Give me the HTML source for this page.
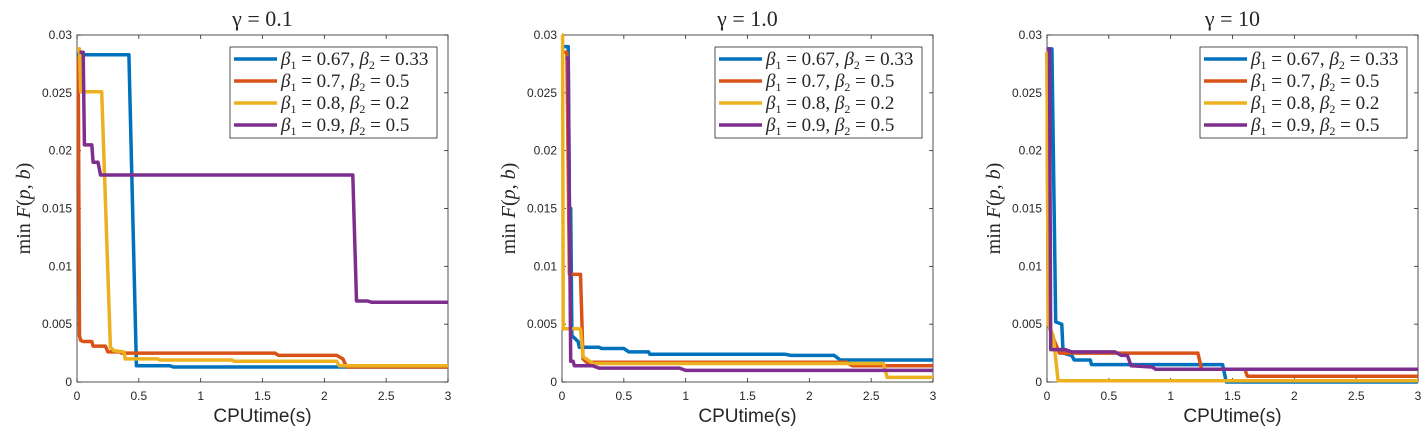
<!DOCTYPE html>
<html><head><meta charset="utf-8"><style>
body{margin:0;background:#fff;width:1425px;height:435px;overflow:hidden}
svg{display:block}
text{font-family:"Liberation Sans",sans-serif;fill:#262626}
.ser{font-family:"Liberation Serif",serif}
</style></head><body>
<svg id="fig" width="1425" height="435"></svg>
<script>
const titles=["γ = 0.1","γ = 1.0","γ = 10"];
const xTicks=[0,0.5,1,1.5,2,2.5,3];
const xTickLabels=["0","0.5","1","1.5","2","2.5","3"];
const yTicks=[0,0.005,0.01,0.015,0.02,0.025,0.03];
const yTickLabels=["0","0.005","0.01","0.015","0.02","0.025","0.03"];
const seriesNames=["0.67","0.33","0.7","0.5","0.8","0.2","0.9","0.5"];
const colors=["#0072BD","#D95319","#EDB120","#7E2F8E"];
// panel 1 (gamma=0.1)
const p1BlueX=[0,0.42,0.48,0.75,0.78,3];
const p1BlueY=[0.0283,0.0283,0.0014,0.0014,0.0013,0.0013];
const p1RedX=[0,0.01,0.02,0.03,0.05,0.12,0.13,0.23,0.25,0.35,0.36,1.6,1.63,2.1,2.15,2.18,3];
const p1RedY=[0.028,0.028,0.004,0.0036,0.0035,0.0035,0.0031,0.0031,0.0026,0.0026,0.0025,0.0025,0.0023,0.0023,0.002,0.0013,0.0013];
const p1YelX=[0,0.02,0.03,0.2,0.27,0.3,0.38,0.39,0.65,0.67,1.25,1.27,2.1,2.12,3];
const p1YelY=[0.0288,0.0288,0.0251,0.0251,0.003,0.0027,0.0026,0.002,0.002,0.0019,0.0019,0.0018,0.0018,0.0014,0.0014];
const p1PurX=[0.02,0.05,0.06,0.12,0.13,0.17,0.19,2.23,2.26,2.35,2.38,3];
const p1PurY=[0.0285,0.0285,0.0205,0.0205,0.019,0.019,0.0179,0.0179,0.007,0.007,0.0069,0.0069];
// panel 2 (gamma=1.0)
const p2BlueX=[0,0.05,0.06,0.07,0.08,0.13,0.14,0.3,0.32,0.5,0.54,0.7,0.71,1.8,1.85,2.2,2.25,3];
const p2BlueY=[0.029,0.029,0.015,0.015,0.004,0.0035,0.003,0.003,0.0029,0.0029,0.0026,0.0026,0.0024,0.0024,0.0023,0.0023,0.0019,0.0019];
const p2RedX=[0,0.04,0.06,0.15,0.17,0.2,2.3,2.35,3];
const p2RedY=[0.0285,0.0285,0.0093,0.0093,0.002,0.0017,0.0017,0.0014,0.0014];
const p2YelX=[0,0.005,0.01,0.15,0.17,0.25,2.6,2.63,3];
const p2YelY=[0.03,0.03,0.0046,0.0046,0.0022,0.0016,0.0016,0.0004,0.0004];
const p2PurX=[0.03,0.05,0.07,0.09,0.1,0.25,0.3,0.95,1,3];
const p2PurY=[0.028,0.028,0.0018,0.0018,0.0014,0.0014,0.0012,0.0012,0.001,0.001];
// panel 3 (gamma=10)
const p3BlueX=[0,0.04,0.07,0.12,0.13,0.2,0.22,0.35,0.36,1.42,1.45,3];
const p3BlueY=[0.0288,0.0288,0.0052,0.005,0.0025,0.0023,0.0019,0.0019,0.0015,0.0015,0,0];
const p3RedX=[0,0.01,0.05,0.1,1.22,1.25,1.6,1.62,3];
const p3RedY=[0.0285,0.005,0.0038,0.0025,0.0025,0.0011,0.0011,0.0005,0.0005];
const p3YelX=[0,0.01,0.05,0.09,3];
const p3YelY=[0.0285,0.005,0.004,0.0001,0.0001];
const p3PurX=[0,0.02,0.03,0.15,0.2,0.55,0.6,0.65,0.68,0.85,0.88,3];
const p3PurY=[0.0288,0.0288,0.0028,0.0028,0.0026,0.0026,0.0023,0.0023,0.0014,0.0013,0.0011,0.0011];

const panels=[
 {L:77,series:[[p1BlueX,p1BlueY],[p1RedX,p1RedY],[p1YelX,p1YelY],[p1PurX,p1PurY]]},
 {L:562,series:[[p2BlueX,p2BlueY],[p2RedX,p2RedY],[p2YelX,p2YelY],[p2PurX,p2PurY]]},
 {L:1047,series:[[p3BlueX,p3BlueY],[p3RedX,p3RedY],[p3YelX,p3YelY],[p3PurX,p3PurY]]}
];
const W=371,T=35,B=382;
const NS="http://www.w3.org/2000/svg";
const svg=document.getElementById('fig');
function mk(tag,attrs,parent,txt){const e=document.createElementNS(NS,tag);for(const k in attrs)e.setAttribute(k,attrs[k]);if(txt!==undefined)e.textContent=txt;parent.appendChild(e);return e;}
panels.forEach((p,pi)=>{
 const xs=v=>p.L+v/3*W, ys=v=>B-v/0.03*(B-T);
 const g=mk('g',{},svg);
 
 
 const title=mk('text',{x:p.L+W/2,y:26,'text-anchor':'middle','font-size':22,class:'ser'},g,titles[pi]);
 
 
 const box=mk('rect',{x:p.L,y:T,width:W,height:B-T,fill:'#fff',stroke:'#262626','stroke-width':0.8},g);
 
 
 xTicks.forEach((v,i)=>{const x=xs(v);
  mk('line',{x1:x,x2:x,y1:B,y2:B-4,stroke:'#262626','stroke-width':0.8},g);
  mk('line',{x1:x,x2:x,y1:T,y2:T+4,stroke:'#262626','stroke-width':0.8},g);
  const t=mk('text',{x:x,y:B+18,'text-anchor':'middle','font-size':12},g,xTickLabels[i]);
  
  });
 yTicks.forEach((v,i)=>{const y=ys(v);
  mk('line',{x1:p.L,x2:p.L+4,y1:y,y2:y,stroke:'#262626','stroke-width':0.8},g);
  mk('line',{x1:p.L+W,x2:p.L+W-4,y1:y,y2:y,stroke:'#262626','stroke-width':0.8},g);
  const t=mk('text',{x:p.L-5,y:y+4,'text-anchor':'end','font-size':12},g,yTickLabels[i]);
  
  });
 const xl=mk('text',{x:p.L+W/2,y:422,'text-anchor':'middle','font-size':19},g,'CPUtime(s)');
 
 
 const yl=mk('text',{x:0,y:0,'text-anchor':'middle','font-size':20,class:'ser',transform:`translate(${p.L-47},${(T+B)/2}) rotate(-90)`},g);
 
 
 yl.innerHTML='min <tspan font-style="italic">F</tspan>(<tspan font-style="italic">p</tspan>, <tspan font-style="italic">b</tspan>)';
 p.series.forEach((s,si)=>{
  const pts=s[0].map((x,i)=>xs(x).toFixed(1)+','+ys(s[1][i]).toFixed(1)).join(' ');
  const pl=mk('polyline',{points:pts,fill:'none',stroke:colors[si],'stroke-width':3.5,'stroke-linejoin':'round'},g);
  
  
 });
 const lx=p.L+W-218, ly=47;
 const lg=mk('g',{},g);
 
 
 mk('rect',{x:lx,y:ly,width:207,height:91,fill:'#fff',stroke:'#262626','stroke-width':0.8},lg);
 for(let k=0;k<4;k++){
  const y=ly+12+k*22;
  const e=mk('g',{},lg);
  
  
  mk('line',{x1:lx+4,x2:lx+47,y1:y,y2:y,stroke:colors[k],'stroke-width':3.5},e);
  const t=mk('text',{x:lx+51,y:y+6,'font-size':19,class:'ser'},e);
  t.innerHTML=`<tspan font-style="italic">β</tspan><tspan font-size="12" dy="4">1</tspan><tspan dy="-4"> = ${seriesNames[2*k]}, </tspan><tspan font-style="italic">β</tspan><tspan font-size="12" dy="4">2</tspan><tspan dy="-4"> = ${seriesNames[2*k+1]}</tspan>`;
 }
});
</script>
</body></html>
